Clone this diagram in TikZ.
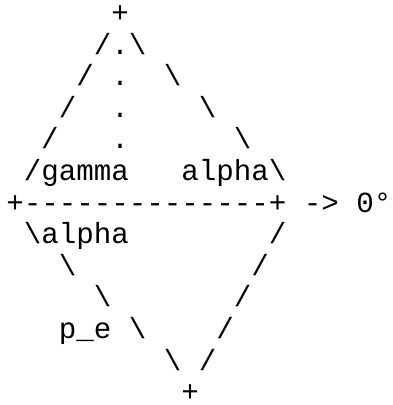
\documentclass[tikz,border=0pt]{standalone}
\usepackage{fontspec}
\setmonofont{Liberation Mono}
\tikzset{
  asciitext/.style={font=\ttfamily\fontsize{29.17pt}{32pt}\selectfont,
    anchor=base west, inner sep=0pt, outer sep=0pt}
}
\def\colw{17.5}
\def\rowh{31.6}
\newcommand{\bs}{\textbackslash}
\newcommand{\asciirow}[4]{%
  % #1 name, #2 column, #3 row, #4 text
  \node[asciitext] (#1) at ({(6.25+#2*\colw)*1pt},{-(22.5+(#3-1)*\rowh)*1pt}) {#4};
}

\begin{document}
\begin{tikzpicture}
  \useasboundingbox (0,0) rectangle (392pt,-405pt);
  % upper half
  \asciirow{apex}{6}{1}{+}
  \asciirow{upA}{5}{2}{/.\bs}
  \asciirow{upB}{4}{3}{/~.~~\bs}
  \asciirow{upC}{3}{4}{/~~.~~~~\bs}
  \asciirow{upD}{2}{5}{/~~~.~~~~~~\bs}
  \asciirow{gammarow}{1}{6}{/gamma~~~alpha\bs}
  % axis
  \asciirow{axis}{0}{7}{+--------------+~->~0°}
  % lower half
  \asciirow{alpharow}{1}{8}{\bs alpha~~~~~~~~/}
  \asciirow{lowA}{3}{9}{\bs~~~~~~~~~~/}
  \asciirow{lowB}{5}{10}{\bs~~~~~~~/}
  \asciirow{perow}{3}{11}{p\_e~\bs~~~~/}
  \asciirow{lowC}{9}{12}{\bs~/}
  \asciirow{bottom}{10}{13}{+}
\end{tikzpicture}
\end{document}
